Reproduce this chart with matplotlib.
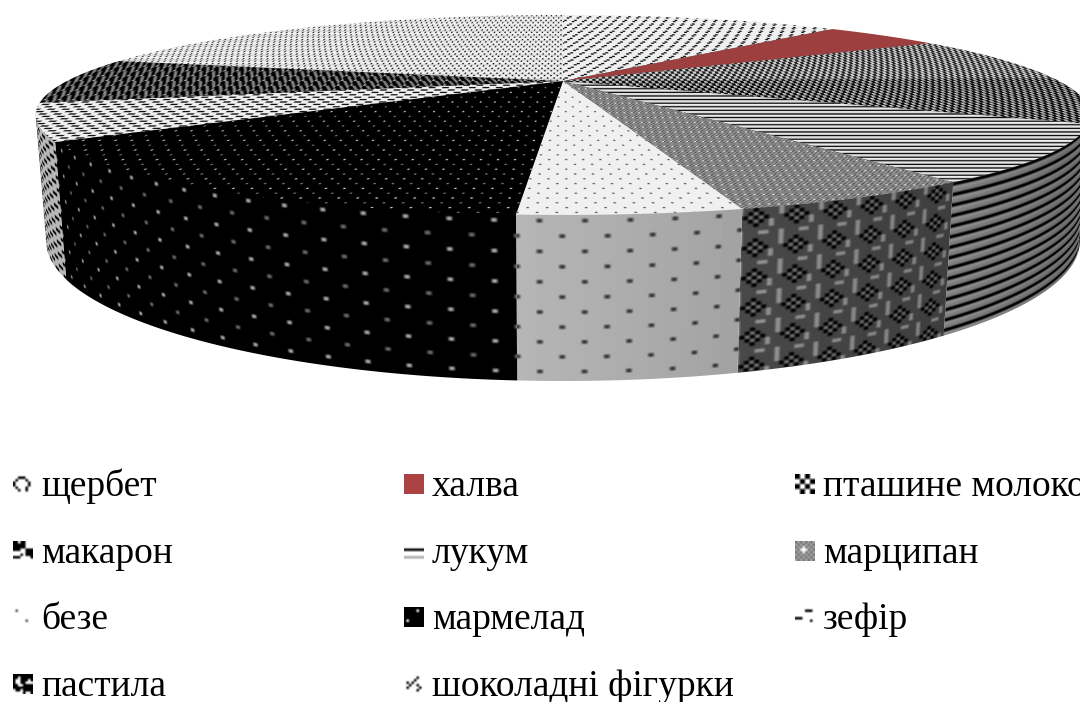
import numpy as np
import matplotlib
matplotlib.use('Agg')
import matplotlib.pyplot as plt
from matplotlib.patches import Polygon

categories = ['щербет', 'халва', 'пташине молоко', 'макарон', 'лукум', 'марципан',
              'безе', 'мармелад', 'зефір', 'пастила', 'шоколадні фігурки']
shares = [11.9, 4.8, 7.8, 7.4, 8.6, 5.7, 4.9, 14.6, 5.8, 7.6, 21.1]

# fill patterns, one digit per texel, 0 = black, 9 = light
patterns = {
    'щербет': ['99999009', '99900999', '99999999', '90099999', '09999990', '99999999'],
    'халва': ['9'],
    'пташине молоко': ['1188', '1188', '8811', '8811'],
    'макарон': ['0096', '0066', '9600', '6600'],
    'лукум': ['0', '9', '8'],
    'марципан': ['44044844', '40604844', '06060444', '40604448',
                 '44044448', '44444444', '88444844', '44444844'],
    'безе': ['99999999', '93999999', '99999999', '99999999',
             '99999999', '99999399', '99999999', '99999999'],
    'мармелад': ['00000000', '08000000', '00000000', '00000000',
                 '00000000', '00000500', '00000000', '00000000'],
    'зефір': ['99999999', '00009999', '99999999', '99990000'],
    'пастила': ['00550055', '00055005', '50005500', '75000550'],
    'шоколадні фігурки': ['99999999', '99099909', '88888888', '09990999'],
}
# the top of this slice reads as an even grey with light flecks
top_patterns = {
    'марципан': ['4646', '6463', '4936', '6463'],
}
# swatches that show a different crop of their fill
key_patterns = {
    'щербет': ['99999999', '99000999', '90999099', '09999909',
               '09999909', '90999099', '99099099', '99999999'],
    'пташине молоко': ['00990099', '00990099', '99009900', '99009900',
                       '00990099', '00990099', '99009900', '99009900'],
    'макарон': ['00900999', '00000999', '00000999', '00099000',
                '99999000', '99909000', '00099990', '99999999'],
    'лукум': ['9', '9', '9', '0', '9', '9', '6', '9'],
    'марципан': ['46464646', '64646464', '46494646', '64999464',
                 '46494646', '64646464', '46464646', '64646464'],
    'мармелад': ['00000000', '00000900', '00000000', '00000000',
                 '00000000', '09000000', '00000000', '00000000'],
    'зефір': ['99999999', '99990009', '99999999', '99999999',
              '00099999', '99999909', '99999999', '99999999'],
    'пастила': ['00000000', '00900000', '09900090', '09900999',
                '00990000', '00000000', '90090000', '99990990'],
    'шоколадні фігурки': ['99999999', '99999099', '99990999', '90909999',
                          '99099099', '90999909', '99999099', '99999999'],
}
halva_top = np.array([0.62, 0.25, 0.25])
halva_key = np.array([0.67, 0.27, 0.27])

# perspective of the disc: centre, radii, foreshortening, extrusion
cx, cy = 563.0, 81.0
ax_u, ax_v = 496.0, 88.4
persp = 0.34
drop = 115.0
drop_persp = 0.018
theta_left, theta_right = np.radians(250.0), np.radians(110.0)

fig = plt.figure(figsize=(10.8, 7.02), dpi=100)
ax = fig.add_axes([0, 0, 1, 1])
ax.set_xlim(0, 1080)
ax.set_ylim(702, 0)
ax.axis('off')


def project(theta, z=0.0):
    u, v = np.sin(theta), np.cos(theta)
    w = 1 + persp * v + drop_persp * z
    return cx + ax_u * u / w, cy + (-ax_v * v + drop * z) / w


def tile_of(rows):
    return np.array([[int(c) / 9 for c in r] for r in rows])


def lookup(rows, tx, ty):
    tile = tile_of(rows)
    h, w = tile.shape
    x0, y0 = np.floor(tx - 0.5), np.floor(ty - 0.5)
    # narrow ramp between texels so the blocks keep their edges
    fx = np.clip((tx - 0.5 - x0 - 0.2) / 0.6, 0, 1)
    fy = np.clip((ty - 0.5 - y0 - 0.2) / 0.6, 0, 1)
    xa, xb = x0.astype(int) % w, (x0.astype(int) + 1) % w
    ya, yb = y0.astype(int) % h, (y0.astype(int) + 1) % h
    top = tile[ya, xa] * (1 - fx) + tile[ya, xb] * fx
    bot = tile[yb, xa] * (1 - fx) + tile[yb, xb] * fx
    return top * (1 - fy) + bot * fy


def grid(poly):
    x0 = max(int(poly[:, 0].min()) - 2, 0)
    x1 = min(int(poly[:, 0].max()) + 3, 1080)
    y0 = max(int(poly[:, 1].min()) - 2, 0)
    y1 = min(int(poly[:, 1].max()) + 3, 702)
    xs = np.arange(x0, x1, 0.5) + 0.25
    ys = np.arange(y0, y1, 0.5) + 0.25
    return (x0, x1, y0, y1), *np.meshgrid(xs, ys)


def to_image(gray):
    g = gray[::2, ::2] + gray[1::2, ::2] + gray[::2, 1::2] + gray[1::2, 1::2]
    return np.clip(g / 4, 0, 1)


def show(img, box, poly, z):
    x0, x1, y0, y1 = box
    patch = Polygon(poly, closed=True, fc='none', ec='none', transform=ax.transData)
    ax.add_patch(patch)
    im = ax.imshow(img, extent=(x0, x1, y1, y0), cmap='gray', vmin=0, vmax=1,
                   interpolation='bilinear', zorder=z, aspect='auto')
    im.set_clip_path(patch)


def draw_top(name, a, b):
    arc = np.linspace(a, b, 80)
    px, py = project(arc)
    poly = np.vstack([[cx, cy], np.column_stack([px, py])])
    box, X, Y = grid(poly)
    ux, vy = (X - cx) / ax_u, (cy - Y) / ax_v
    v = vy / (1 - persp * vy)
    u = ux * (1 + persp * v)
    if name == 'халва':
        show(np.ones((2, 2, 3)) * halva_top, box, poly, 3)
        return
    # columns follow the perspective, rows stay even on screen
    rows = top_patterns.get(name, patterns[name])
    gray = lookup(rows, u / 0.0033, (Y - cy) / 1.2) * 0.94
    show(to_image(gray), box, poly, 3)


def draw_side(name, a, b):
    a, b = max(a, theta_right), min(b, theta_left)
    if b <= a:
        return
    arc = np.linspace(a, b, 80)
    # start a little above the rim so no gap opens under the top face
    tx, ty = project(arc, -0.02)
    bx, by = project(arc[::-1], 1.0)
    poly = np.vstack([np.column_stack([tx, ty]), np.column_stack([bx, by])])
    box, X, Y = grid(poly)
    ux = (X - cx) / ax_u
    z = np.full(X.shape, 0.5)
    for _ in range(4):
        r = np.sqrt(1 + (ux * persp) ** 2)
        phi = np.arctan(ux * persp)
        s = np.clip(ux * (1 + drop_persp * z) / r, -1, 1)
        theta = phi + np.pi - np.arcsin(s)
        v = np.cos(theta)
        dy = Y - cy
        z = (dy * (1 + persp * v) + ax_v * v) / (drop - drop_persp * dy)
    shade = 0.46 + 0.26 * np.clip((np.degrees(theta) - 125) / 60, 0, 1)
    gray = lookup(patterns[name], theta / 0.0076, z / 0.0227) * shade
    show(to_image(gray), box, poly, 2)


values = np.array(shares) / sum(shares)
edges = np.concatenate([[0], np.cumsum(values)]) * 2 * np.pi
for name, a, b in zip(categories, edges[:-1], edges[1:]):
    draw_side(name, a, b)
    draw_top(name, a, b)

# backing disc, a touch smaller than the rim, hides seams between the top wedges
rim_x, rim_y = project(np.linspace(0, 2 * np.pi, 240))
ax.add_patch(Polygon(np.column_stack([cx + 0.985 * (rim_x - cx), cy + 0.985 * (rim_y - cy)]),
                     closed=True, fc='#6a6a6a', ec='none', zorder=2.5))

# legend: three columns, filled row by row
col_x = [13, 404, 795]
row_y = [484, 551, 617, 684]
for i, name in enumerate(categories):
    row, col = i // 3, i % 3
    x, y = col_x[col], row_y[row]
    if name == 'халва':
        swatch = np.ones((2, 2, 3)) * halva_key
    else:
        tile = tile_of(key_patterns.get(name, patterns[name]))
        swatch = np.tile(tile, (8 // tile.shape[0] + 1, 8 // tile.shape[1] + 1))[:8, :8]
    ax.imshow(swatch, extent=(x, x + 20, y + 10, y - 10), cmap='gray', vmin=0, vmax=1,
              interpolation='bilinear', zorder=4, aspect='auto')
    ax.text(x + 28, y + 12, name, family='Liberation Serif', fontsize=27, color='black',
            ha='left', va='baseline', zorder=5, clip_on=True)

ax.set_xlim(0, 1080)
ax.set_ylim(702, 0)
fig.savefig('out.png', dpi=100, facecolor='white')
